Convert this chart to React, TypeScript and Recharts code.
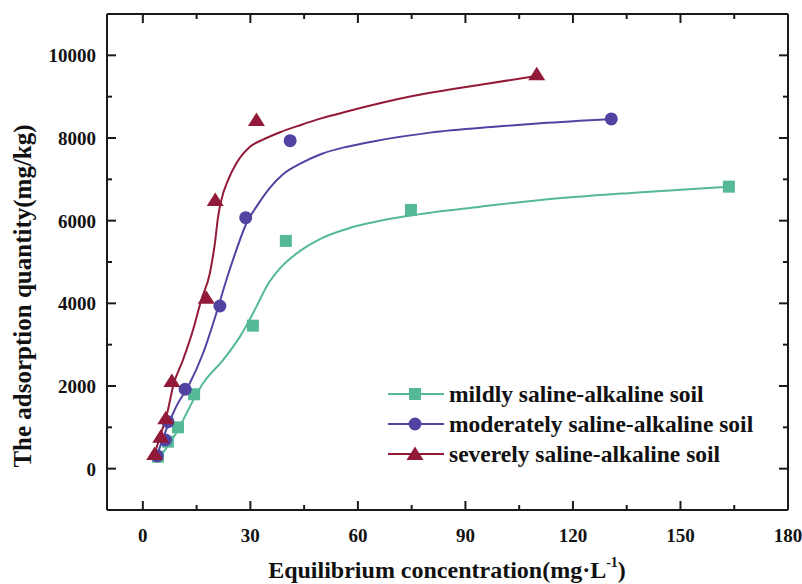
import { ComposedChart, Line, Scatter, XAxis, YAxis, Legend, Label } from "recharts";

const FONT = '"Liberation Serif", "Times New Roman", serif';
const AXIS = "#1a1a1a";

const xMajor = [0, 30, 60, 90, 120, 150, 180];
const xMinor = [15, 45, 75, 105, 135, 165];
const yMajor = [0, 2000, 4000, 6000, 8000, 10000];
const yMinor = [1000, 3000, 5000, 7000, 9000];

const seriesNames = [
  "mildly saline-alkaline soil",
  "moderately saline-alkaline soil",
  "severely saline-alkaline soil",
];
const seriesColors = ["#55b997", "#5143a1", "#921a38"];

// measured points
const mildX = [4.2, 7.0, 9.8, 14.3, 30.7, 39.9, 74.8, 163.5];
const mildY = [290, 653, 1000, 1800, 3460, 5510, 6260, 6823];
const modX = [4.0, 6.3, 7.0, 11.8, 21.5, 28.7, 41.1, 130.7];
const modY = [307, 694, 1137, 1921, 3936, 6073, 7936, 8461];
const sevX = [3.3, 5.0, 6.4, 8.1, 17.7, 20.2, 31.7, 109.9];
const sevY = [356, 774, 1219, 2122, 4137, 6500, 8437, 9543];

// fitted curves
const mildFitX = [4.2, 7.5, 10.3, 13.1, 16.8, 22.4, 27.1, 31.7, 34.5, 38.3, 43.9, 50, 56.9, 75.6, 94.2, 111.0, 137.1, 163.5];
const mildFitY = [220, 614, 1016, 1500, 2066, 2630, 3194, 3920, 4404, 4850, 5270, 5580, 5800, 6138, 6339, 6501, 6678, 6823];
const modFitX = [4.0, 6.5, 9.3, 13.1, 16.8, 20.5, 23.3, 26.1, 28.9, 31.7, 35.5, 39.2, 43.9, 50, 57, 65, 80.2, 98.9, 111.0, 130.7];
const modFitY = [330, 936, 1500, 2066, 2792, 3760, 4566, 5292, 5937, 6339, 6800, 7130, 7380, 7620, 7790, 7930, 8130, 8276, 8357, 8461];
const sevFitX = [3.3, 5.1, 7.0, 8.4, 11.2, 14.0, 16.3, 18.7, 20.1, 21.0, 21.9, 23.8, 26.1, 29.9, 33.5, 38.3, 43.9, 50, 56.9, 75.6, 94.2, 109.9];
const sevFitY = [372, 856, 1420, 1984, 2630, 3356, 4082, 4728, 5453, 6097, 6501, 6985, 7389, 7791, 7960, 8140, 8310, 8480, 8640, 9020, 9290, 9500];

const zip = (xs: number[], ys: number[]) => xs.map((x, i) => ({ x, y: ys[i] }));

const points = [zip(mildX, mildY), zip(modX, modY), zip(sevX, sevY)];
const fits = [zip(mildFitX, mildFitY), zip(modFitX, modFitY), zip(sevFitX, sevFitY)];

const xTicks = [...xMajor, ...xMinor];
const yTicks = [...yMajor, ...yMinor];

function Marker({ cx, cy, kind }: { cx: number; cy: number; kind: number }) {
  const c = seriesColors[kind];
  if (kind === 0) return <rect x={cx - 6} y={cy - 6} width={12} height={12} fill={c} />;
  if (kind === 1) return <circle cx={cx} cy={cy} r={6.5} fill={c} />;
  return <polygon points={`${cx},${cy - 7.5} ${cx + 8.5},${cy + 6} ${cx - 8.5},${cy + 6}`} fill={c} />;
}

function BottomTick({ x, y, payload }: any) {
  const major = xMajor.includes(payload.value);
  return (
    <g>
      <line x1={x} y1={y} x2={x} y2={y - (major ? 9 : 5)} stroke={AXIS} strokeWidth={2} />
      {major && (
        <text x={x} y={y + 32} textAnchor="middle" fontFamily={FONT} fontWeight="bold" fontSize={19} fill="#111">
          {payload.value}
        </text>
      )}
    </g>
  );
}

function TopTick({ x, y, payload }: any) {
  const major = xMajor.includes(payload.value);
  return <line x1={x} y1={y} x2={x} y2={y + (major ? 9 : 5)} stroke={AXIS} strokeWidth={2} />;
}

function LeftTick({ x, y, payload }: any) {
  const major = yMajor.includes(payload.value);
  return (
    <g>
      <line x1={x} y1={y} x2={x + (major ? 9 : 5)} y2={y} stroke={AXIS} strokeWidth={2} />
      {major && (
        <text x={x - 11} y={y + 7} textAnchor="end" fontFamily={FONT} fontWeight="bold" fontSize={19} fill="#111">
          {payload.value}
        </text>
      )}
    </g>
  );
}

function RightTick({ x, y, payload }: any) {
  const major = yMajor.includes(payload.value);
  return <line x1={x} y1={y} x2={x - (major ? 9 : 5)} y2={y} stroke={AXIS} strokeWidth={2} />;
}

function XTitle() {
  return (
    <text x={447} y={578} textAnchor="middle" fontFamily={FONT} fontWeight="bold" fontSize={24} fill="#111">
      Equilibrium concentration(mg·L
      <tspan fontSize={14} dy={-11}>-1</tspan>
      <tspan dy={11}>)</tspan>
    </text>
  );
}

function YTitle() {
  return (
    <text
      transform="rotate(-90)"
      x={-296}
      y={31}
      textAnchor="middle"
      fontFamily={FONT}
      fontWeight="bold"
      fontSize={25}
      fill="#111"
    >
      The adsorption quantity(mg/kg)
    </text>
  );
}

function LegendBox() {
  return (
    <div style={{ fontFamily: FONT, fontWeight: "bold", fontSize: 23.5, color: "#111" }}>
      {seriesNames.map((name, i) => (
        <div key={name} style={{ display: "flex", alignItems: "center", height: 30 }}>
          <svg width={56} height={30}>
            <line x1={0} y1={15} x2={56} y2={15} stroke={seriesColors[i]} strokeWidth={2} />
            <Marker cx={27} cy={15} kind={i} />
          </svg>
          <span style={{ marginLeft: 5, lineHeight: "30px", whiteSpace: "nowrap" }}>{name}</span>
        </div>
      ))}
    </div>
  );
}

export default function App() {
  return (
    <div style={{ position: "absolute", left: 0, top: 0, background: "#fff" }}>
      <ComposedChart width={802} height={584} margin={{ top: 12, right: 12, bottom: 44, left: 47 }}>
        <XAxis
          dataKey="x"
          type="number"
          domain={[-10, 180]}
          allowDataOverflow
          ticks={xTicks}
          interval={0}
          tick={<BottomTick />}
          tickLine={false}
          tickSize={0}
          tickMargin={0}
          height={30}
          axisLine={{ stroke: AXIS, strokeWidth: 2 }}
        >
          <Label content={<XTitle />} />
        </XAxis>
        <XAxis
          xAxisId="top"
          orientation="top"
          dataKey="x"
          type="number"
          domain={[-10, 180]}
          allowDataOverflow
          ticks={xTicks}
          interval={0}
          tick={<TopTick />}
          tickLine={false}
          tickSize={0}
          tickMargin={0}
          height={2}
          axisLine={{ stroke: AXIS, strokeWidth: 2 }}
        />
        <YAxis
          type="number"
          domain={[-1000, 11000]}
          allowDataOverflow
          ticks={yTicks}
          interval={0}
          tick={<LeftTick />}
          tickLine={false}
          tickSize={0}
          tickMargin={0}
          width={60}
          axisLine={{ stroke: AXIS, strokeWidth: 2 }}
        >
          <Label content={<YTitle />} />
        </YAxis>
        <YAxis
          yAxisId="right"
          orientation="right"
          type="number"
          domain={[-1000, 11000]}
          allowDataOverflow
          ticks={yTicks}
          interval={0}
          tick={<RightTick />}
          tickLine={false}
          tickSize={0}
          tickMargin={0}
          width={2}
          axisLine={{ stroke: AXIS, strokeWidth: 2 }}
        />
        <Legend
          layout="vertical"
          align="center"
          verticalAlign="middle"
          content={<LegendBox />}
          wrapperStyle={{ left: 388, top: 379, width: 400 }}
        />
        {fits.map((d, i) => (
          <Line
            key={`fit-${i}`}
            data={d}
            dataKey="y"
            type="monotone"
            stroke={seriesColors[i]}
            strokeWidth={2}
            dot={false}
            activeDot={false}
            legendType="none"
            isAnimationActive={false}
          />
        ))}
        {points.map((d, i) => (
          <Scatter
            key={`pts-${i}`}
            name={seriesNames[i]}
            data={d}
            dataKey="y"
            fill={seriesColors[i]}
            shape={(p: any) => <Marker cx={p.cx} cy={p.cy} kind={i} />}
            isAnimationActive={false}
          />
        ))}
      </ComposedChart>
    </div>
  );
}
